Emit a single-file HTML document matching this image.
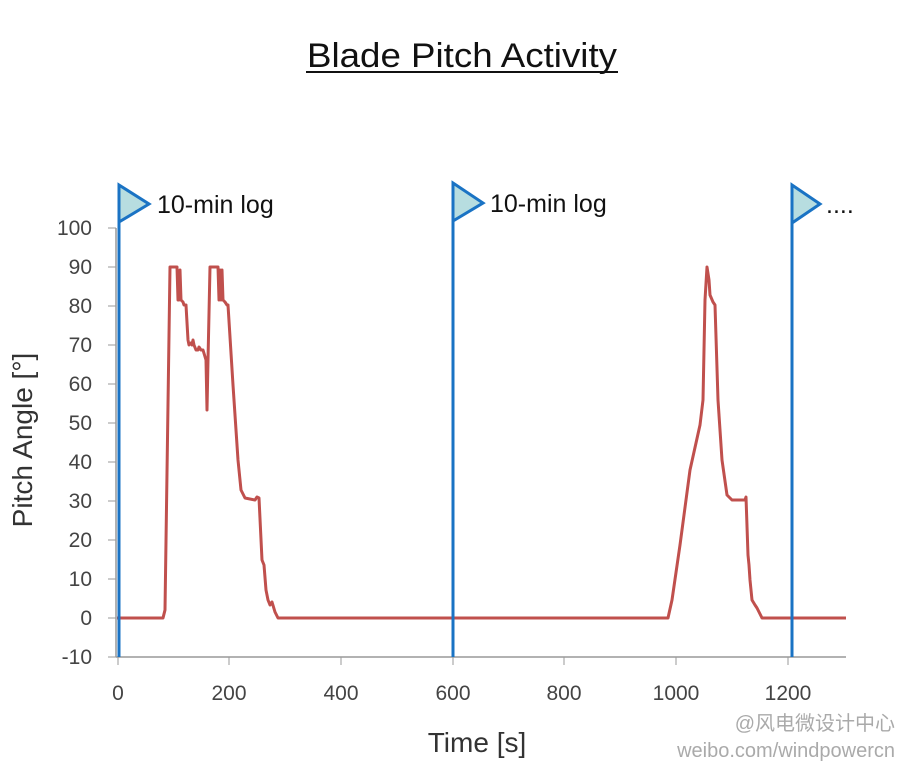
<!DOCTYPE html>
<html><head><style>body{margin:0;background:#fff}</style></head><body>
<svg width="900" height="769" xmlns="http://www.w3.org/2000/svg" font-family="Liberation Sans, sans-serif">
<text x="307" y="67" font-size="34" fill="#111" textLength="310" lengthAdjust="spacingAndGlyphs">Blade Pitch Activity</text>
<line x1="306" y1="72" x2="618" y2="72" stroke="#111" stroke-width="2"/>
<g stroke="#999" stroke-width="1.5">
<line x1="116" y1="228" x2="116" y2="657"/>
<line x1="116" y1="657" x2="846" y2="657"/>
</g>
<g stroke="#999" stroke-width="1">
<line x1="108" y1="228" x2="116" y2="228"/><line x1="108" y1="267" x2="116" y2="267"/><line x1="108" y1="306" x2="116" y2="306"/><line x1="108" y1="345" x2="116" y2="345"/><line x1="108" y1="384" x2="116" y2="384"/><line x1="108" y1="423" x2="116" y2="423"/><line x1="108" y1="462" x2="116" y2="462"/><line x1="108" y1="501" x2="116" y2="501"/><line x1="108" y1="540" x2="116" y2="540"/><line x1="108" y1="579" x2="116" y2="579"/><line x1="108" y1="618" x2="116" y2="618"/><line x1="108" y1="657" x2="116" y2="657"/>
<line x1="118" y1="657" x2="118" y2="665"/><line x1="229" y1="657" x2="229" y2="665"/><line x1="341" y1="657" x2="341" y2="665"/><line x1="453" y1="657" x2="453" y2="665"/><line x1="564" y1="657" x2="564" y2="665"/><line x1="676" y1="657" x2="676" y2="665"/><line x1="788" y1="657" x2="788" y2="665"/>
</g>
<g font-size="21" fill="#444" text-anchor="end">
<text x="92" y="235">100</text><text x="92" y="274">90</text><text x="92" y="313">80</text><text x="92" y="352">70</text><text x="92" y="391">60</text><text x="92" y="430">50</text><text x="92" y="469">40</text><text x="92" y="508">30</text><text x="92" y="547">20</text><text x="92" y="586">10</text><text x="92" y="625">0</text><text x="92" y="664">-10</text>
</g>
<g font-size="21" fill="#444" text-anchor="middle">
<text x="118" y="700">0</text><text x="229" y="700">200</text><text x="341" y="700">400</text><text x="453" y="700">600</text><text x="564" y="700">800</text><text x="676" y="700">1000</text><text x="788" y="700">1200</text>
</g>
<text x="477" y="752" font-size="28" fill="#333" text-anchor="middle">Time [s]</text>
<text transform="translate(32,440) rotate(-90)" font-size="28" fill="#333" text-anchor="middle">Pitch Angle [°]</text>
<polyline fill="none" stroke="#c0504d" stroke-width="3" stroke-linejoin="round" points="117,618 163,618 165,610 170,267 177,267 178,300 179,300 180,270 181,300 183,302 184,305 186,305 188,340 189,345 191,343 192,345 193,340 194,345 196,350 198,350 199,347 201,350 203,350 206,360 207,410 208,360 210,267 218,267 219,300 220,270 221,300 222,270 223,300 225,302 227,305 228,305 233,385 238,460 241,490 245,498 255,500 257,497 259,498 262,560 264,565 266,590 268,600 270,605 272,602 275,612 278,618 668,618 672,600 680,545 690,470 700,425 703,400 705,300 707,267 709,280 710,295 713,302 715,305 718,400 722,460 727,495 732,500 745,500 746,497 748,555 749,565 750,580 752,600 755,605 757,608 762,618 846,618"/>
<g stroke="#1a73c4" stroke-width="3" fill="#b7dde0">
<line x1="119" y1="185" x2="119" y2="657"/><polygon points="119,185 149,204 119,222"/>
<line x1="453" y1="183" x2="453" y2="657"/><polygon points="453,183 483,203 453,221"/>
<line x1="792" y1="185" x2="792" y2="657"/><polygon points="792,185 820,204 792,223"/>
</g>
<text x="157" y="213" font-size="25" fill="#111">10-min log</text>
<text x="490" y="212" font-size="25" fill="#111">10-min log</text>
<text x="826" y="213" font-size="25" fill="#111">....</text>
<text x="895" y="730" font-size="20" fill="#aaa" text-anchor="end" font-family="Liberation Sans, Noto Sans CJK SC, sans-serif">@风电微设计中心</text>
<text x="895" y="757" font-size="20" fill="#aaa" text-anchor="end">weibo.com/windpowercn</text>
</svg>
</body></html>
